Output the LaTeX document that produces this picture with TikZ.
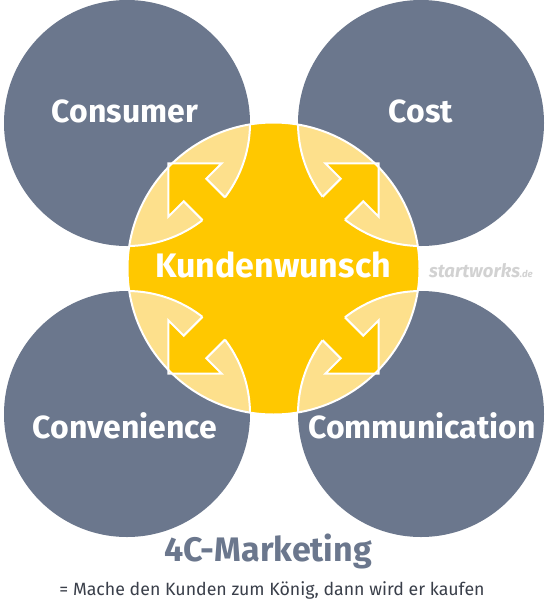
\documentclass[tikz,border=0pt]{standalone}
\usepackage{fontspec}
\setmainfont{Fira Sans}
\definecolor{greyc}{HTML}{6B778D}
\definecolor{yel}{HTML}{FFC800}
\definecolor{pale}{HTML}{FDE08C}
\definecolor{wmark}{HTML}{D2D2D2}
\definecolor{subc}{HTML}{3A3F4A}
\newcommand\kwarrow{(40,16) -- (111,16) -- (111,37.5) -- (148.5,0) -- (111,-37.5) -- (111,-16) -- (40,-16) -- cycle}
\begin{document}
\begin{tikzpicture}[x=1pt,y=-1pt,
  biglabel/.style={text=white,font=\fontsize{32}{36}\selectfont\bfseries,inner sep=0pt,anchor=base},
  wline/.style={draw=white,line width=2pt},
]
\useasboundingbox (0,0) rectangle (548,600);
\fill[white] (0,0) rectangle (548,600);
% grey circles
\foreach \gx/\gy in {127/123, 421/123, 127/414, 421/414}
  \fill[greyc] (\gx,\gy) circle[radius=123];
% central circle
\coordinate (C) at (273.5,268.5);
\fill[yel] (C) circle[radius=146];
\foreach \gx/\gy/\ang in {127/123/135, 421/123/45, 127/414/-135, 421/414/-45}{
  \begin{scope}
    \clip (\gx,\gy) circle[radius=123];
    \fill[pale] (C) circle[radius=146];
  \end{scope}
  \begin{scope}
    \clip (C) circle[radius=146];
    \draw[wline] (\gx,\gy) circle[radius=123];
  \end{scope}
  \fill[yel,shift={(C)},rotate=\ang] \kwarrow;
  \begin{scope}
    \clip (\gx,\gy) circle[radius=123];
    \draw[wline,line join=miter,shift={(C)},rotate=\ang] \kwarrow;
  \end{scope}
}
\draw[wline] (C) circle[radius=146];
% labels
\node[biglabel] (consumer) at (125,122) {Consumer};
\node[biglabel] (cost) at (421,122) {Cost};
\node[biglabel] (convenience) at (125,438) {Convenience};
\node[biglabel] (communication) at (422,438) {Communication};
\node[biglabel,font=\fontsize{34}{38}\selectfont\bfseries] (kw) at (273,277) {Kundenwunsch};
\node[anchor=base east,inner sep=0pt,text=wmark,font=\fontsize{18.5}{20}\selectfont\bfseries\itshape] (wm) at (533,277) {startworks{\fontsize{9.5}{10}\selectfont.de}};
\node[anchor=base,inner sep=0pt,text=greyc,font=\fontsize{34}{38}\selectfont\bfseries] (title) at (268,561) {4C-Marketing};
\node[anchor=base,inner sep=0pt,text=subc,font=\fontsize{17.75}{20}\selectfont] (sub) at (272,595) {= Mache den Kunden zum König, dann wird er kaufen};
\end{tikzpicture}
\end{document}
